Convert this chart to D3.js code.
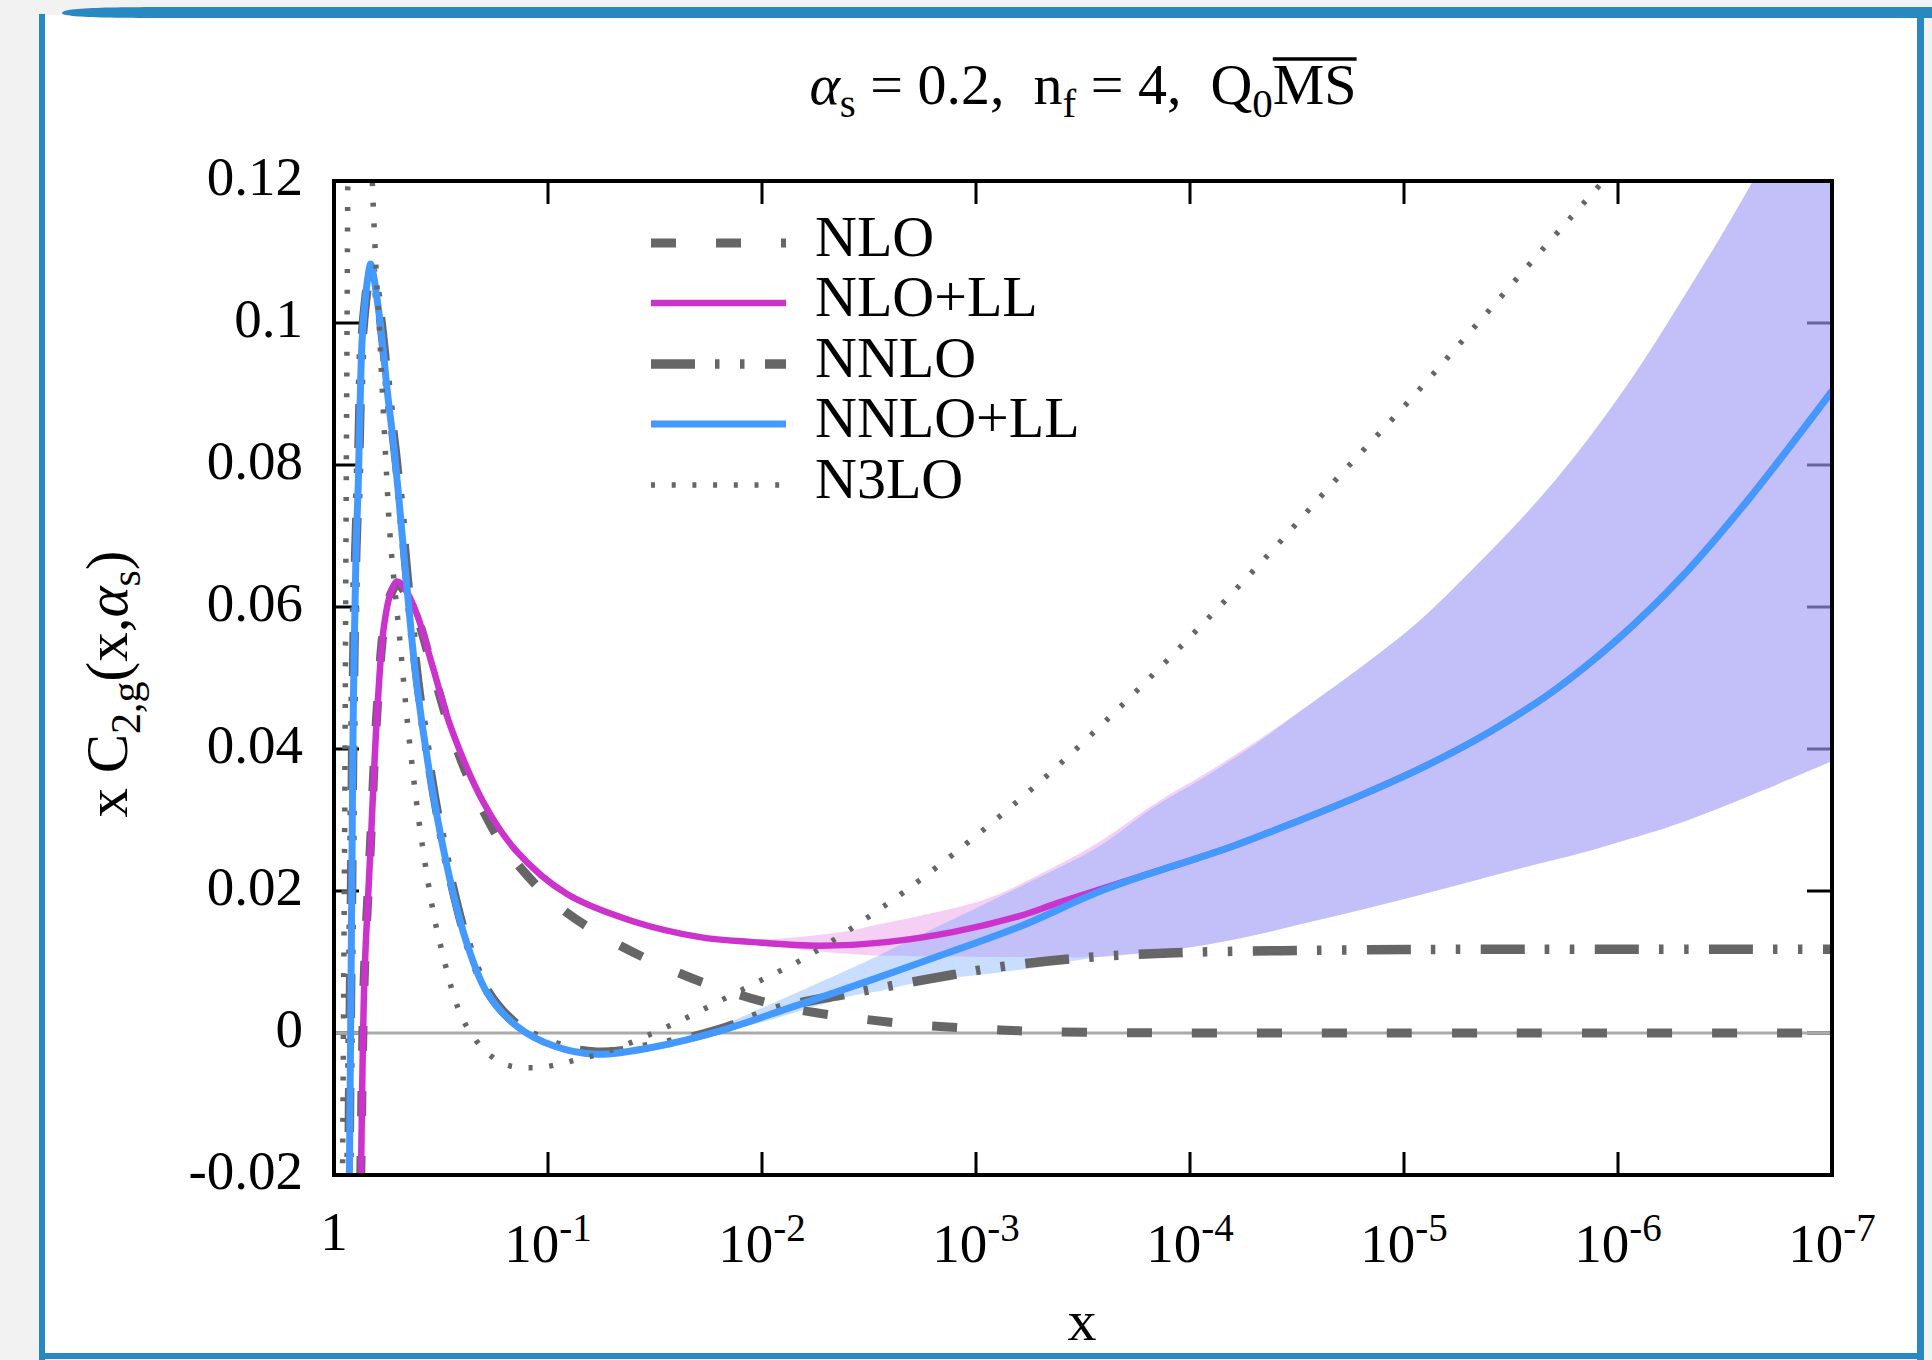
<!DOCTYPE html>
<html>
<head>
<meta charset="utf-8">
<script src="https://cdn.jsdelivr.net/npm/d3@7"></script>
<style>
html,body{margin:0;padding:0;background:#f2f2f2;}
svg{display:block;}
text{font-family:"Liberation Serif","DejaVu Serif",serif;fill:#000;}
</style>
</head>
<body>
<svg id="chart" width="1932" height="1360"></svg>
<script>
// ---------- data (u = -log10 x, value = x C_2,g) ----------
const xTickExps = [0, -1, -2, -3, -4, -5, -6, -7];
const yTicks = [-0.02, 0, 0.02, 0.04, 0.06, 0.08, 0.1, 0.12];
const yTickLabels = ["-0.02", "0", "0.02", "0.04", "0.06", "0.08", "0.1", "0.12"];
const seriesNames = ["NLO", "NLO+LL", "NNLO", "NNLO+LL", "N3LO"];

const nloU = [0.119, 0.125, 0.141, 0.169, 0.201, 0.233, 0.265, 0.297, 0.330, 0.386, 0.464, 0.542, 0.620, 0.698, 0.807, 1.04, 1.273, 1.538, 1.82, 2.115, 2.41, 2.707, 3.01, 3.31, 3.7, 4.3, 5.5, 7.0];
const nloV = [-0.03, -0.02, 0.0075, 0.0256, 0.0453, 0.0572, 0.0618, 0.0632, 0.0622, 0.0588, 0.0508, 0.0428, 0.0365, 0.0313, 0.0257, 0.0181, 0.0134, 0.0094, 0.0061, 0.0036, 0.0022, 0.0012, 0.0006, 0.0002, 0.00005, 0, 0, 0];

const nlollU = [0.120, 0.126, 0.142, 0.170, 0.202, 0.233, 0.265, 0.295, 0.330, 0.386, 0.464, 0.542, 0.698, 0.853, 1.087, 1.40, 1.71, 1.96, 2.27, 2.58, 2.89, 3.206, 3.39, 3.93, 4.2, 4.5, 4.8, 5.1, 5.4, 5.7, 6.0, 6.3, 6.6, 7.0];
const nlollV = [-0.03, -0.02, 0.0075, 0.0256, 0.0453, 0.0572, 0.0620, 0.0636, 0.0626, 0.0591, 0.0513, 0.0434, 0.0325, 0.0256, 0.0196, 0.0157, 0.0135, 0.0128, 0.0123, 0.0128, 0.0142, 0.0165, 0.0184, 0.0236, 0.0263, 0.0298, 0.0335, 0.0376, 0.0424, 0.0482, 0.0555, 0.0643, 0.0748, 0.0904];

const nnloU = [0.068, 0.070, 0.077, 0.082, 0.089, 0.102, 0.113, 0.121, 0.131, 0.147, 0.163, 0.176, 0.190, 0.214, 0.233, 0.256, 0.284, 0.308, 0.345, 0.392, 0.468, 0.546, 0.624, 0.716, 0.855, 1.025, 1.228, 1.49, 1.80, 2.10, 2.40, 2.63, 2.89, 3.13, 3.50, 3.93, 4.75, 5.5, 7.0];
const nnloV = [-0.03, -0.02, 0.005, 0.02, 0.045, 0.068, 0.0776, 0.088, 0.0974, 0.103, 0.1065, 0.1075, 0.1060, 0.1015, 0.0965, 0.0895, 0.0825, 0.0755, 0.0631, 0.0493, 0.0335, 0.0216, 0.0127, 0.0060, 0.0012, -0.0015, -0.0027, -0.0018, 0.0005, 0.0037, 0.0055, 0.0068, 0.0082, 0.0094, 0.0106, 0.0113, 0.0117, 0.0118, 0.0118];

const nnlollU = [0.069, 0.072, 0.079, 0.083, 0.090, 0.103, 0.1136, 0.1215, 0.131, 0.145, 0.160, 0.171, 0.184, 0.207, 0.226, 0.249, 0.277, 0.300, 0.340, 0.386, 0.464, 0.542, 0.620, 0.713, 0.853, 1.025, 1.228, 1.49, 1.804, 2.115, 2.427, 2.738, 3.206, 3.6, 4.2, 4.5, 4.8, 5.1, 5.4, 5.7, 6.0, 6.3, 6.6, 7.0];
const nnlollV = [-0.03, -0.02, 0.005, 0.02, 0.045, 0.068, 0.0776, 0.088, 0.0974, 0.103, 0.1068, 0.1083, 0.1068, 0.1021, 0.0974, 0.0904, 0.0833, 0.0763, 0.0631, 0.0493, 0.0335, 0.0216, 0.0127, 0.0058, 0.0010, -0.0018, -0.0030, -0.0020, 0.0003, 0.0034, 0.0066, 0.0099, 0.0150, 0.0202, 0.0263, 0.0298, 0.0335, 0.0376, 0.0424, 0.0482, 0.0555, 0.0643, 0.0748, 0.0904];

const n3loU = [0.038, 0.040, 0.044, 0.050, 0.056, 0.062, 0.066, 0.080, 0.120, 0.160, 0.179, 0.196, 0.212, 0.226, 0.246, 0.262, 0.308, 0.355, 0.417, 0.495, 0.620, 0.776, 0.930, 1.118, 1.305, 1.492, 1.664, 1.835, 2.007, 2.178, 2.340, 2.505, 2.660, 2.890, 3.300, 3.690, 4.030, 4.370, 4.690, 5.020, 5.340, 5.660, 5.920, 6.200];
const n3loV = [-0.03, -0.02, 0.0, 0.03, 0.07, 0.105, 0.125, 0.15, 0.16, 0.14, 0.12, 0.108, 0.0992, 0.0903, 0.0785, 0.070, 0.0552, 0.0404, 0.0256, 0.0127, 0.0009, -0.0041, -0.0049, -0.0039, -0.0023, 0.0, 0.0024, 0.0050, 0.0076, 0.0102, 0.0132, 0.0165, 0.0198, 0.0251, 0.0354, 0.0464, 0.0567, 0.0675, 0.0782, 0.0889, 0.0998, 0.1108, 0.1196, 0.129];

// uncertainty bands
const bandU    = [1.75, 1.96, 2.2, 2.43, 2.53, 2.74, 3.05, 3.3, 3.57, 3.83, 4.07, 4.32, 4.57, 4.82, 5.07, 5.31, 5.56, 5.81, 6.06, 6.30, 6.63, 7.0];
const nlollLo  = [0.0134, 0.0126, 0.0117, 0.0111, 0.0109, 0.0108, 0.0107, 0.0107, 0.0107, 0.0114, 0.0124, 0.0139, 0.0157, 0.0175, 0.0194, 0.0213, 0.0233, 0.0252, 0.0274, 0.0297, 0.0336, 0.0383];
const nlollHi  = [0.0136, 0.0132, 0.0136, 0.0145, 0.0152, 0.0165, 0.0189, 0.0224, 0.0268, 0.0322, 0.0365, 0.0413, 0.0465, 0.0520, 0.0580, 0.0650, 0.0728, 0.0817, 0.0920, 0.1033, 0.1200, 0.1420];
const nnlollLo = [-0.0003, 0.0012, 0.0033, 0.0053, 0.0058, 0.0072, 0.0083, 0.0093, 0.0107, 0.0114, 0.0124, 0.0139, 0.0157, 0.0175, 0.0194, 0.0213, 0.0233, 0.0252, 0.0274, 0.0297, 0.0336, 0.0383];
const nnlollHi = [0.0002, 0.0030, 0.0062, 0.0093, 0.0107, 0.0138, 0.0183, 0.0220, 0.0262, 0.0318, 0.0361, 0.0410, 0.0465, 0.0520, 0.0580, 0.0650, 0.0728, 0.0817, 0.0920, 0.1033, 0.1200, 0.1420];

// ---------- drawing ----------
const svg = d3.select("#chart");
const W = 1932, H = 1360;
const L = 334, R = 1832, T = 181, B = 1175;

// page frame (slide screenshot look)
svg.append("rect").attr("x", 0).attr("y", 0).attr("width", W).attr("height", H).attr("fill", "#f2f2f2");
svg.append("rect").attr("x", 44).attr("y", 15).attr("width", 1874).attr("height", 1339).attr("fill", "#ffffff");
const frameBlue = "#2889c2";
svg.append("rect").attr("x", 39).attr("y", 14).attr("width", 6).attr("height", 1346).attr("fill", frameBlue);
svg.append("rect").attr("x", 1917).attr("y", 14).attr("width", 7).attr("height", 1346).attr("fill", frameBlue);
svg.append("rect").attr("x", 39).attr("y", 1353).attr("width", 1885).attr("height", 6).attr("fill", frameBlue);
svg.append("path").attr("d", "M62,13 C62,7 120,7 200,7 L1932,7 L1932,18 L200,18 C120,18 62,18 62,13 Z").attr("fill", frameBlue);

const x = d3.scaleLog().domain([1, 1e-7]).range([L, R]);
const y = d3.scaleLinear().domain([-0.02, 0.12]).range([B, T]);
const X = u => x(Math.pow(10, -u));
const curve = d3.curveCatmullRom.alpha(0.5);

svg.append("defs").append("clipPath").attr("id", "plotclip")
  .append("rect").attr("x", L).attr("y", T).attr("width", R - L).attr("height", B - T);

// ticks (drawn under the bands, like the original)
const tickG = svg.append("g").attr("stroke", "#000").attr("stroke-width", 3);
xTickExps.slice(1, -1).forEach(e => {
  const px = x(Math.pow(10, e));
  tickG.append("line").attr("x1", px).attr("x2", px).attr("y1", B).attr("y2", B - 23);
  tickG.append("line").attr("x1", px).attr("x2", px).attr("y1", T).attr("y2", T + 23);
});
yTicks.forEach(v => {
  const py = y(v);
  tickG.append("line").attr("x1", L).attr("x2", L + 25).attr("y1", py).attr("y2", py);
  tickG.append("line").attr("x1", R).attr("x2", R - 25).attr("y1", py).attr("y2", py);
});

const plot = svg.append("g").attr("clip-path", "url(#plotclip)");

// zero line
plot.append("line").attr("x1", L).attr("x2", R).attr("y1", y(0)).attr("y2", y(0))
  .attr("stroke", "#aaaaaa").attr("stroke-width", 3);

// bands
const area = (lo, hi) => d3.area()
  .x((d, i) => X(bandU[i]))
  .y0((d, i) => y(lo[i]))
  .y1((d, i) => y(hi[i]))
  .curve(curve)(bandU);
plot.append("path").attr("d", area(nlollLo, nlollHi)).attr("fill", "rgb(235,150,230)").attr("fill-opacity", 0.45);
plot.append("path").attr("d", area(nnlollLo, nnlollHi)).attr("fill", "rgb(100,160,255)").attr("fill-opacity", 0.35);

// lines
const lineGen = (us, vs) => d3.line()
  .x((d, i) => X(us[i]))
  .y((d, i) => y(vs[i]))
  .curve(curve)(us);

const styles = {
  "NLO":     {color: "#666666", width: 9,   dash: "25,40"},
  "NLO+LL":  {color: "#cc33cc", width: 6.5, dash: null},
  "NNLO":    {color: "#666666", width: 9.5, dash: "44,20,4.5,20.5,4.5,20.5"},
  "NNLO+LL": {color: "#4499ff", width: 7,   dash: null},
  "N3LO":    {color: "#666666", width: 5.5, dash: "4,16.7"}
};
const seriesData = {
  "NLO": [nloU, nloV], "NLO+LL": [nlollU, nlollV], "NNLO": [nnloU, nnloV],
  "NNLO+LL": [nnlollU, nnlollV], "N3LO": [n3loU, n3loV]
};
["NLO", "NNLO", "NLO+LL", "NNLO+LL", "N3LO"].forEach(name => {
  const s = styles[name], dd = seriesData[name];
  plot.append("path").attr("d", lineGen(dd[0], dd[1]))
    .attr("fill", "none").attr("stroke", s.color).attr("stroke-width", s.width)
    .attr("stroke-dasharray", s.dash).attr("stroke-linejoin", "round");
});

// frame
svg.append("rect").attr("x", L).attr("y", T).attr("width", R - L).attr("height", B - T)
  .attr("fill", "none").attr("stroke", "#000").attr("stroke-width", 4);

// y tick labels
yTicks.forEach((v, i) => {
  svg.append("text").attr("x", 303).attr("y", y(v) + 14).attr("text-anchor", "end")
    .attr("font-size", 55).text(yTickLabels[i]);
});
// x tick labels
xTickExps.forEach(e => {
  const px = x(Math.pow(10, e));
  if (e === 0) {
    svg.append("text").attr("x", px).attr("y", 1250).attr("text-anchor", "middle").attr("font-size", 55).text("1");
  } else {
    const t = svg.append("text").attr("x", px).attr("y", 1262).attr("text-anchor", "middle").attr("font-size", 55);
    t.append("tspan").text("10");
    t.append("tspan").attr("font-size", 39).attr("dy", -21).text(String(e));
  }
});

// axis titles
svg.append("text").attr("x", 1082).attr("y", 1340).attr("text-anchor", "middle").attr("font-size", 58).text("x");
const yl = svg.append("text").attr("transform", "translate(127,684) rotate(-90)")
  .attr("text-anchor", "middle").attr("font-size", 59);
yl.append("tspan").text("x C");
yl.append("tspan").attr("font-size", 42).attr("dy", 13).text("2,g");
yl.append("tspan").attr("dy", -13).text("(x,");
yl.append("tspan").attr("font-style", "italic").text("α");
yl.append("tspan").attr("font-size", 42).attr("dy", 13).text("s");
yl.append("tspan").attr("dy", -13).text(")");

// title
const tt = svg.append("text").attr("x", 1083).attr("y", 104).attr("text-anchor", "middle").attr("font-size", 58);
tt.append("tspan").attr("font-style", "italic").text("α");
tt.append("tspan").attr("font-size", 41).attr("dy", 13).text("s");
tt.append("tspan").attr("dy", -13).text(" = 0.2,\u00a0 n");
tt.append("tspan").attr("font-size", 41).attr("dy", 13).text("f");
tt.append("tspan").attr("dy", -13).text(" = 4,\u00a0 Q");
tt.append("tspan").attr("font-size", 41).attr("dy", 13).text("0");
tt.append("tspan").attr("dy", -13).text("MS");
const tNode = tt.node();
const nChars = tNode.getNumberOfChars();
const eM = tNode.getExtentOfChar(nChars - 2), eS = tNode.getExtentOfChar(nChars - 1);
svg.append("line").attr("x1", eM.x).attr("x2", eS.x + eS.width).attr("y1", 59).attr("y2", 59)
  .attr("stroke", "#000").attr("stroke-width", 3.5);

// legend
const legY = [243, 303, 364, 424, 485];
seriesNames.forEach((name, i) => {
  const s = styles[name];
  svg.append("line").attr("x1", 651).attr("x2", 786).attr("y1", legY[i]).attr("y2", legY[i])
    .attr("stroke", s.color).attr("stroke-width", s.width).attr("stroke-dasharray", s.dash);
  svg.append("text").attr("x", 815).attr("y", legY[i] + 13).attr("font-size", 58).text(name);
});
</script>
</body>
</html>
